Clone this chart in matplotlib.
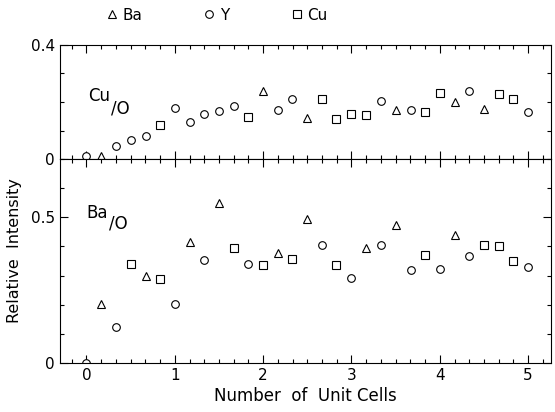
import numpy as np
import matplotlib
matplotlib.use('Agg')
from matplotlib import pyplot as plt
from matplotlib.ticker import MultipleLocator, FixedLocator

# coverage in unit cells, one point per layer
cells = [0.0, 0.17, 0.33, 0.5, 0.67, 0.83, 1.0, 1.17, 1.33, 1.5, 1.67,
         1.83, 2.0, 2.17, 2.33, 2.5, 2.67, 2.83, 3.0, 3.17, 3.33, 3.5,
         3.67, 3.83, 4.0, 4.17, 4.33, 4.5, 4.67, 4.83, 5.0]

# Cu/O ratio (upper panel)
cu_o = [0.01, 0.01, 0.046, 0.065, 0.079, 0.12, 0.178, 0.13, 0.158, 0.168,
        0.185, 0.147, 0.24, 0.171, 0.209, 0.144, 0.212, 0.14, 0.158, 0.154,
        0.202, 0.171, 0.171, 0.164, 0.233, 0.2, 0.24, 0.175, 0.229, 0.212,
        0.164]
cu_term = ['Y', 'Ba', 'Y', 'Y', 'Y', 'Cu', 'Y', 'Y', 'Y', 'Y', 'Y', 'Cu',
           'Ba', 'Y', 'Y', 'Ba', 'Cu', 'Cu', 'Cu', 'Cu', 'Y', 'Ba', 'Y',
           'Cu', 'Cu', 'Ba', 'Y', 'Ba', 'Cu', 'Cu', 'Y']

# Ba/O ratio (lower panel)
ba_o = [0.0, 0.204, 0.122, 0.339, 0.30, 0.287, 0.204, 0.415, 0.353, 0.549,
        0.396, 0.34, 0.336, 0.376, 0.358, 0.495, 0.404, 0.336, 0.29, 0.393,
        0.404, 0.473, 0.32, 0.37, 0.324, 0.438, 0.366, 0.404, 0.40, 0.35,
        0.33]
ba_term = ['Y', 'Ba', 'Y', 'Cu', 'Ba', 'Cu', 'Y', 'Ba', 'Y', 'Ba', 'Cu',
           'Y', 'Cu', 'Ba', 'Cu', 'Ba', 'Y', 'Cu', 'Y', 'Ba', 'Y', 'Ba',
           'Y', 'Cu', 'Y', 'Ba', 'Y', 'Cu', 'Cu', 'Cu', 'Y']

species = ['Ba', 'Y', 'Cu']
marks = {'Ba': '^', 'Y': 'o', 'Cu': 's'}

plt.rcParams['font.family'] = 'DejaVu Sans'
fig = plt.figure(figsize=(5.55, 4.12), dpi=100)
ax_top = fig.add_axes([0.108, 0.614, 0.885, 0.277])
ax_bot = fig.add_axes([0.108, 0.119, 0.885, 0.495])

def scatter_panel(ax, y, term):
    x = np.array(cells)
    y = np.array(y)
    t = np.array(term)
    for s in species:
        sel = t == s
        ax.plot(x[sel], y[sel], ls='none', marker=marks[s], ms=5.5,
                mfc='white', mec='black', mew=0.8, label=s)

scatter_panel(ax_top, cu_o, cu_term)
scatter_panel(ax_bot, ba_o, ba_term)

for ax in (ax_top, ax_bot):
    ax.set_xlim(-0.3, 5.26)
    ax.xaxis.set_major_locator(MultipleLocator(1))
    ax.xaxis.set_minor_locator(MultipleLocator(1 / 6))
    ax.yaxis.set_minor_locator(MultipleLocator(0.1))
    ax.tick_params(which='both', direction='in', top=True, right=True,
                   labelsize=11, width=0.8)
    ax.tick_params(which='major', length=6)
    ax.tick_params(which='minor', length=3)
    for sp in ax.spines.values():
        sp.set_linewidth(0.8)

ax_top.set_ylim(0, 0.4)
ax_top.yaxis.set_major_locator(FixedLocator([0, 0.4]))
ax_top.set_yticklabels(['0', '0.4'])
ax_top.tick_params(labelbottom=False)

ax_bot.set_ylim(0, 0.7)
ax_bot.yaxis.set_major_locator(FixedLocator([0, 0.5]))
ax_bot.set_yticklabels(['0', '0.5'])
ax_bot.set_xlabel('Number  of  Unit Cells', fontsize=12, labelpad=3)

# panel labels
ax_top.text(0.14, 0.22, 'Cu', fontsize=12, ha='center', va='center')
ax_top.text(0.38, 0.178, '/O', fontsize=12, ha='center', va='center')
ax_bot.text(0.12, 0.515, 'Ba', fontsize=12, ha='center', va='center')
ax_bot.text(0.36, 0.478, '/O', fontsize=12, ha='center', va='center')

fig.text(0.027, 0.393, 'Relative  Intensity', rotation=90, fontsize=11.5,
         ha='center', va='center')

handles, labels = ax_bot.get_legend_handles_labels()
fig.legend(handles, labels, loc='upper center', bbox_to_anchor=(0.39, 1.015),
           ncol=3, frameon=False, fontsize=11, handlelength=0.8,
           handletextpad=0.3, columnspacing=4.0)

fig.savefig('out.png', dpi=100)
